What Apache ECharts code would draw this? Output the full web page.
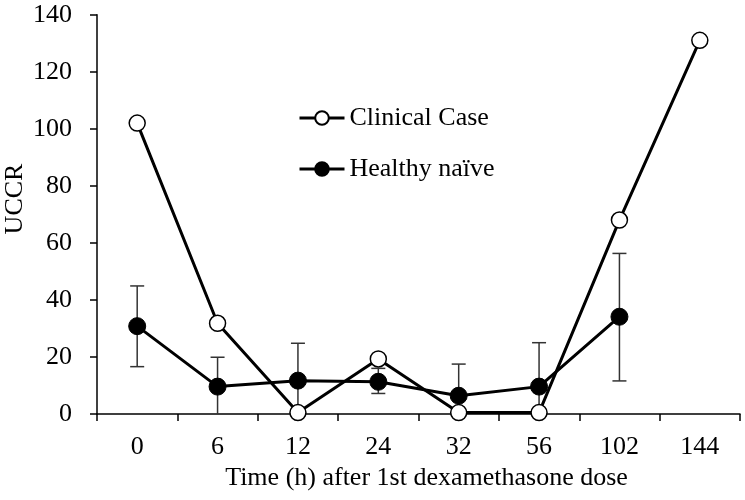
<!DOCTYPE html>
<html><head><meta charset="utf-8">
<script src="https://cdn.jsdelivr.net/npm/echarts@6/dist/echarts.min.js"></script>
<style>html,body{margin:0;padding:0;background:#fff}#c{width:745px;height:500px}</style>
</head><body><div id="c"></div>
<script>
const categories = ['0','6','12','24','32','56','102','144'];
const clinical = [102, 31.8, 0.5, 19.3, 0.5, 0.5, 68, 131];
const healthy = [30.8, 9.6, 11.7, 11.3, 6.4, 9.6, 34.1, null];
const healthyLow = [16.6, 0, 0, 7.2, 0, 0, 11.6, null];
const healthyHigh = [44.9, 19.9, 24.8, 16.0, 17.5, 25.0, 56.3, null];
const yTicks = [0, 20, 40, 60, 80, 100, 120, 140];
const yTitle = 'UCCR';
const xTitle = 'Time (h) after 1st dexamethasone dose';

const FONT = 'Liberation Serif';
const FS = 26;
const chart = echarts.init(document.getElementById('c'), null, {renderer: 'canvas'});
const errData = categories.map((c, i) => healthy[i] == null ? null : [i, healthyLow[i], healthyHigh[i]]).filter(d => d);
chart.setOption({
  animation: false,
  backgroundColor: '#fff',
  grid: {left: 97, right: 5, top: 14.7, bottom: 86, containLabel: false, outerBoundsMode: 'none'},
  graphic: [{
    type: 'text', x: 15, y: 199, rotation: Math.PI / 2,
    style: {text: yTitle, fontFamily: FONT, fontSize: FS, fill: '#000', align: 'center', verticalAlign: 'middle'}
  }],
  legend: {
    orient: 'vertical', left: 293, top: 100, itemWidth: 45, itemHeight: 17, itemGap: 25,
    lineStyle: {width: 3, color: '#000'},
    textStyle: {fontFamily: FONT, fontSize: FS, color: '#000'},
    data: ['Clinical Case', 'Healthy naïve']
  },
  xAxis: {
    type: 'category', data: categories, boundaryGap: true,
    name: xTitle, nameLocation: 'middle', nameGap: 49,
    nameTextStyle: {fontFamily: FONT, fontSize: FS, color: '#000', padding: [0, 0, 0, 16]},
    axisLine: {lineStyle: {color: '#000', width: 1.5}},
    axisTick: {show: true, inside: false, length: 7, lineStyle: {color: '#000', width: 1.5}},
    axisLabel: {fontFamily: FONT, fontSize: FS, color: '#000', margin: 20},
    splitLine: {show: false}
  },
  yAxis: {
    type: 'value', min: yTicks[0], max: yTicks[yTicks.length - 1], interval: 20,
    axisLine: {show: true, lineStyle: {color: '#000', width: 1.5}},
    axisTick: {show: true, inside: false, length: 7, lineStyle: {color: '#000', width: 1.5}},
    axisLabel: {fontFamily: FONT, fontSize: FS, color: '#000', margin: 25},
    splitLine: {show: false}
  },
  series: [
    {
      type: 'custom', name: 'err', z: 1, silent: true,
      renderItem: function (params, api) {
        const x = api.value(0);
        const pLo = api.coord([x, api.value(1)]);
        const pHi = api.coord([x, api.value(2)]);
        const w = 7;
        const st = {stroke: '#333', lineWidth: 1.5};
        const children = [
          {type: 'line', shape: {x1: pLo[0], y1: pLo[1], x2: pHi[0], y2: pHi[1]}, style: st},
          {type: 'line', shape: {x1: pHi[0] - w, y1: pHi[1], x2: pHi[0] + w, y2: pHi[1]}, style: st}
        ];
        if (api.value(1) > 0) children.push({type: 'line', shape: {x1: pLo[0] - w, y1: pLo[1], x2: pLo[0] + w, y2: pLo[1]}, style: st});
        return {type: 'group', children: children};
      },
      data: errData
    },
    {
      name: 'Healthy naïve', type: 'line', data: healthy, z: 2,
      symbol: 'circle', symbolSize: 17,
      itemStyle: {color: '#000', borderColor: '#000', borderWidth: 1},
      lineStyle: {color: '#000', width: 3}
    },
    {
      name: 'Clinical Case', type: 'line', data: clinical, z: 3,
      symbol: 'circle', symbolSize: 16,
      itemStyle: {color: '#fff', borderColor: '#000', borderWidth: 1.5},
      lineStyle: {color: '#000', width: 3}
    }
  ]
});
</script></body></html>
